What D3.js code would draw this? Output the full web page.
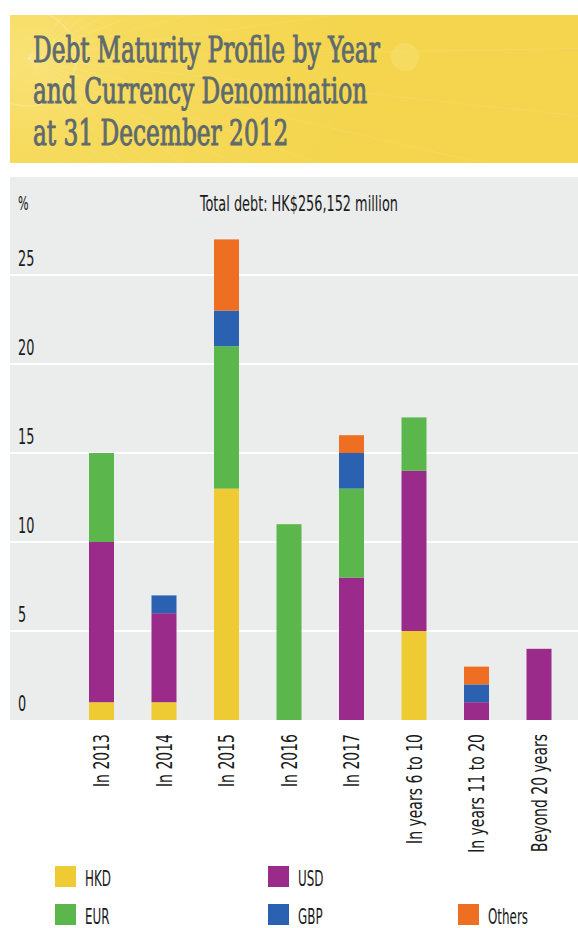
<!DOCTYPE html>
<html><head><meta charset="utf-8">
<script src="https://cdn.jsdelivr.net/npm/d3@7"></script>
<style>body{margin:0;background:#fff}svg{display:block}</style>
</head><body>
<script>
// ---- data ----
const categories = ["In 2013","In 2014","In 2015","In 2016","In 2017","In years 6 to 10","In years 11 to 20","Beyond 20 years"];
const hkd    = [1, 1, 13, 0, 0, 5, 0, 0];
const usd    = [9, 5, 0, 0, 8, 9, 1, 4];
const eur    = [5, 0, 8, 11, 5, 3, 0, 0];
const gbp    = [0, 1, 2, 0, 2, 0, 1, 0];
const others = [0, 0, 4, 0, 1, 0, 1, 0];
const seriesNames = ["HKD","USD","EUR","GBP","Others"];
const yTicks = [0, 5, 10, 15, 20, 25];
const titleLines = ["Debt Maturity Profile by Year","and Currency Denomination","at 31 December 2012"];
const subtitle = "Total debt: HK$256,152 million";
const yUnit = "%";

// ---- setup ----
const W = 578, H = 928;
const SANS = "'Liberation Sans Narrow','DejaVu Sans Condensed','Roboto Condensed',sans-serif";
const SERIF = "'DejaVu Serif Condensed','DejaVu Serif','Liberation Serif',serif";
const colors = {HKD:"#eecb33", USD:"#9a2b8b", EUR:"#5bb74b", GBP:"#2a62b1", Others:"#ee6e22"};
const seriesData = {HKD:hkd, USD:usd, EUR:eur, GBP:gbp, Others:others};

const svg = d3.select("body").append("svg").attr("width", W).attr("height", H);
const defs = svg.append("defs");

// ---- title band ----
const rg = defs.append("radialGradient").attr("id","sun").attr("gradientUnits","userSpaceOnUse")
  .attr("cx",30).attr("cy",60).attr("r",330);
rg.append("stop").attr("offset",0).attr("stop-color","#f9e277");
rg.append("stop").attr("offset",0.3).attr("stop-color","#f6da5c");
rg.append("stop").attr("offset",1).attr("stop-color","#f4d54d");
defs.append("clipPath").attr("id","bandClip").append("rect")
  .attr("x",10).attr("y",15).attr("width",568).attr("height",148);
const band = svg.append("g").attr("clip-path","url(#bandClip)");
band.append("rect").attr("x",10).attr("y",15).attr("width",568).attr("height",148).attr("fill","url(#sun)");
band.append("circle").attr("cx",28).attr("cy",58).attr("r",48).attr("fill","none")
  .attr("stroke","#fbe88f").attr("stroke-width",2).attr("opacity",0.5);
const rays = d3.range(-50, 60, 7);
band.selectAll("line.ray").data(rays).join("line").attr("class","ray")
  .attr("x1",28).attr("y1",58)
  .attr("x2",d=>28+700*Math.cos(d*Math.PI/180)).attr("y2",d=>58+700*Math.sin(d*Math.PI/180))
  .attr("stroke","#fff").attr("stroke-opacity",0.1).attr("stroke-width",1);
band.append("circle").attr("cx",405).attr("cy",57).attr("r",14).attr("fill","#f7df70").attr("opacity",0.6);

const titleG = svg.append("g");
const tl = titleG.selectAll("text").data(titleLines).join("text")
  .text(d=>d).attr("font-family",SERIF).attr("font-size",35).attr("fill","#5d6a6f")
  .attr("stroke","#5d6a6f").attr("stroke-width",0.9);
const kt = 347 / tl.nodes()[0].getComputedTextLength();
const titleBase = [62, 103, 145];
tl.attr("transform",(d,i)=>`translate(33,${titleBase[i]}) scale(${kt},1)`);

// ---- chart panel ----
const panel = {x0:10, x1:578, y0:177, y1:720};
svg.append("rect").attr("x",panel.x0).attr("y",panel.y0)
  .attr("width",panel.x1-panel.x0).attr("height",panel.y1-panel.y0).attr("fill","#ebecec");

const x = d3.scaleBand().domain(categories).range([70.25, 570.25]).paddingInner(0.6).paddingOuter(0.3);
const y = d3.scaleLinear().domain([0, 25]).range([720, 275]);

// gridlines
svg.append("g").selectAll("line").data(yTicks.filter(v=>v>0)).join("line")
  .attr("x1",panel.x0).attr("x2",panel.x1).attr("y1",d=>y(d)).attr("y2",d=>y(d))
  .attr("stroke","#fff").attr("stroke-width",2);

// subtitle
const st = svg.append("text").text(subtitle).attr("font-family",SANS).attr("font-size",22)
  .attr("fill","#1a1a1a").attr("text-anchor","middle");
const ks = 198 / st.node().getComputedTextLength();
st.attr("transform",`translate(299,211) scale(${ks},1)`);

// y unit
svg.append("text").text(yUnit).attr("font-family",SANS).attr("font-size",19).attr("fill","#1a1a1a")
  .attr("transform",`translate(18,210) scale(${ks},1)`);

// y tick labels
svg.append("g").selectAll("text").data(yTicks).join("text")
  .text(d=>d).attr("font-family",SANS).attr("font-size",22).attr("fill","#1a1a1a")
  .attr("transform",d=>`translate(18,${y(d)-9}) scale(${ks},1)`);

// bars
const rows = categories.map((c,i)=>{
  const r = {cat:c};
  seriesNames.forEach(s=>r[s]=seriesData[s][i]);
  return r;
});
const stacked = d3.stack().keys(seriesNames)(rows);
svg.append("g").selectAll("g").data(stacked).join("g")
  .attr("fill",d=>colors[d.key])
  .selectAll("rect").data(d=>d.filter(p=>p[1]-p[0]>0)).join("rect")
  .attr("x",d=>x(d.data.cat)).attr("width",x.bandwidth())
  .attr("y",d=>y(d[1])).attr("height",d=>y(d[0])-y(d[1]));

// x labels
const xl = svg.append("g").selectAll("text").data(categories).join("text")
  .text(d=>d).attr("font-family",SANS).attr("font-size",22).attr("fill","#1a1a1a")
  .attr("text-anchor","end").attr("dy","0.36em");
const kx = 110 / xl.nodes()[5].getComputedTextLength();
xl.attr("transform",d=>`translate(${x(d)+x.bandwidth()/2},734) rotate(-90) scale(${kx},1)`);

// legend
const legendPos = {
  HKD:{x:55,y:866}, USD:{x:268,y:866},
  EUR:{x:55,y:904}, GBP:{x:268,y:904}, Others:{x:458,y:904}
};
const lg = svg.append("g").selectAll("g").data(seriesNames).join("g")
  .attr("transform",d=>`translate(${legendPos[d].x},${legendPos[d].y})`);
lg.append("rect").attr("width",21).attr("height",21).attr("fill",d=>colors[d]);
const lt = lg.append("text").text(d=>d).attr("font-family",SANS).attr("font-size",21).attr("fill","#1a1a1a");
const kl = 40 / lt.nodes()[4].getComputedTextLength();
lt.attr("transform",`translate(30,20) scale(${kl},1)`);
</script>
</body></html>
